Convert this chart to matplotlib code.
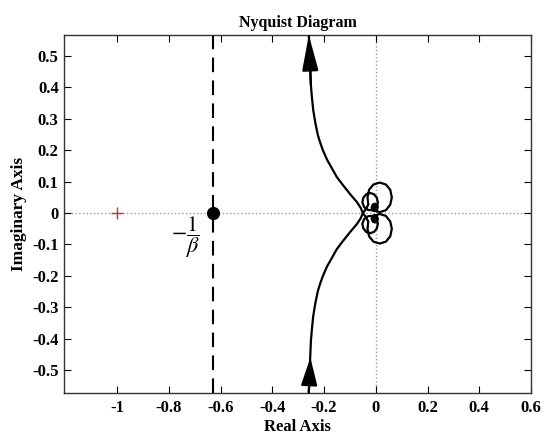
import matplotlib
matplotlib.use("Agg")
import matplotlib.pyplot as plt
import numpy as np

# upper branch of the Nyquist curve (real, imag)
branch_re = [-0.259, -0.257, -0.255, -0.253, -0.251, -0.247, -0.242, -0.234, -0.224,
             -0.215, -0.205, -0.188, -0.170, -0.151, -0.127, -0.100, -0.073, -0.058,
             -0.050]
branch_im = [0.567, 0.530, 0.487, 0.447, 0.408, 0.368, 0.328, 0.288, 0.248,
             0.224, 0.201, 0.169, 0.143, 0.115, 0.089, 0.061, 0.035, 0.016,
             0.000]

# loops around the origin following the branch (lower half; mirrored for the other branch)
loop_re = [-0.038, -0.029, -0.032, -0.026, -0.009, 0.015, 0.039, 0.056, 0.062, 0.056,
           0.039, 0.015, -0.009, -0.030, -0.045, -0.052, -0.048, -0.037, -0.022, -0.007,
           0.004, 0.008, 0.004, -0.007, -0.012, -0.016, -0.012, -0.004, 0.004, 0.008,
           0.004, -0.002, -0.008, -0.008, -0.002, 0.003, 0.001, -0.003, -0.004, -0.001, 0.000]
loop_im = [-0.013, -0.027, -0.050, -0.074, -0.091, -0.097, -0.091, -0.074, -0.050, -0.027,
           -0.009, -0.003, -0.009, -0.010, -0.019, -0.034, -0.049, -0.060, -0.064, -0.060,
           -0.049, -0.034, -0.019, -0.008, -0.009, -0.018, -0.027, -0.030, -0.027, -0.018,
           -0.010, -0.008, -0.013, -0.021, -0.024, -0.019, -0.013, -0.013, -0.018, -0.019, -0.016]

critical_x = -0.63
critical_label = r'$-\dfrac{1}{\beta}$'

xticks = [-1, -0.8, -0.6, -0.4, -0.2, 0, 0.2, 0.4, 0.6]
yticks = [0.5, 0.4, 0.3, 0.2, 0.1, 0, -0.1, -0.2, -0.3, -0.4, -0.5]

plt.rcParams['font.family'] = ['Liberation Serif', 'DejaVu Serif']
plt.rcParams['mathtext.fontset'] = 'stix'

fig = plt.figure(figsize=(5.44, 4.36), dpi=100)
ax = fig.add_axes([0.118, 0.099, 0.858, 0.821])

# grid lines through origin
ax.axhline(0, color='#999999', ls=':', lw=1, zorder=1)
ax.axvline(0, color='#999999', ls=':', lw=1, zorder=1)

re = np.array(branch_re + loop_re)
im = np.array(branch_im + loop_im)
ax.plot(re, im, color='black', lw=1.6, zorder=3, solid_joinstyle='round')
ax.plot(re, -im, color='black', lw=1.6, zorder=3, solid_joinstyle='round')

# arrows on the branches
arrow = dict(arrowstyle='-|>,head_length=2.2,head_width=0.5', color='black',
             lw=1.6, mutation_scale=10, shrinkA=0, shrinkB=0)
ax.annotate('', xy=(branch_re[0], branch_im[0]), xytext=(branch_re[4], branch_im[4]),
            arrowprops=arrow, zorder=4)
bottom_arrow = dict(arrow)
bottom_arrow['arrowstyle'] = '-|>,head_length=1.7,head_width=0.5'
ax.annotate('', xy=(branch_re[3], -0.46), xytext=(branch_re[0], -0.572),
            arrowprops=bottom_arrow, zorder=4)

# -1/beta line and point
ax.axvline(critical_x, color='black', ls=(0, (7, 4)), lw=1.5, zorder=2)
ax.plot([critical_x], [0], 'o', color='black', ms=8.5, zorder=5)
ax.text(-0.737, -0.076, critical_label, fontsize=16, ha='center', va='center')

# critical point -1
ax.plot([-1], [0], '+', color='#d03030', ms=8, mew=1, zorder=5)

ax.set_xlim(-1.205, 0.6)
ax.set_ylim(-0.572, 0.567)
ax.set_xticks(xticks)
ax.set_xticklabels(['-1', '-0.8', '-0.6', '-0.4', '-0.2', '0', '0.2', '0.4', '0.6'])
ax.set_yticks(yticks)
ax.set_yticklabels(['0.5', '0.4', '0.3', '0.2', '0.1', '0', '-0.1', '-0.2', '-0.3', '-0.4', '-0.5'])
ax.tick_params(direction='in', top=True, right=True, length=5, width=0.8,
               labelsize=12, pad=4)
ax.tick_params(axis='x', pad=5)
for lab in ax.get_xticklabels() + ax.get_yticklabels():
    lab.set_fontweight('bold')
for sp in ax.spines.values():
    sp.set_linewidth(1.0)
    sp.set_color('#333333')

ax.set_title('Nyquist Diagram', fontsize=11.5, fontweight='bold', pad=6)
ax.set_xlabel('Real Axis', fontsize=12, fontweight='bold', labelpad=2)
ax.set_ylabel('Imaginary Axis', fontsize=12.5, fontweight='bold', labelpad=4)

fig.savefig('out.png', dpi=100)
